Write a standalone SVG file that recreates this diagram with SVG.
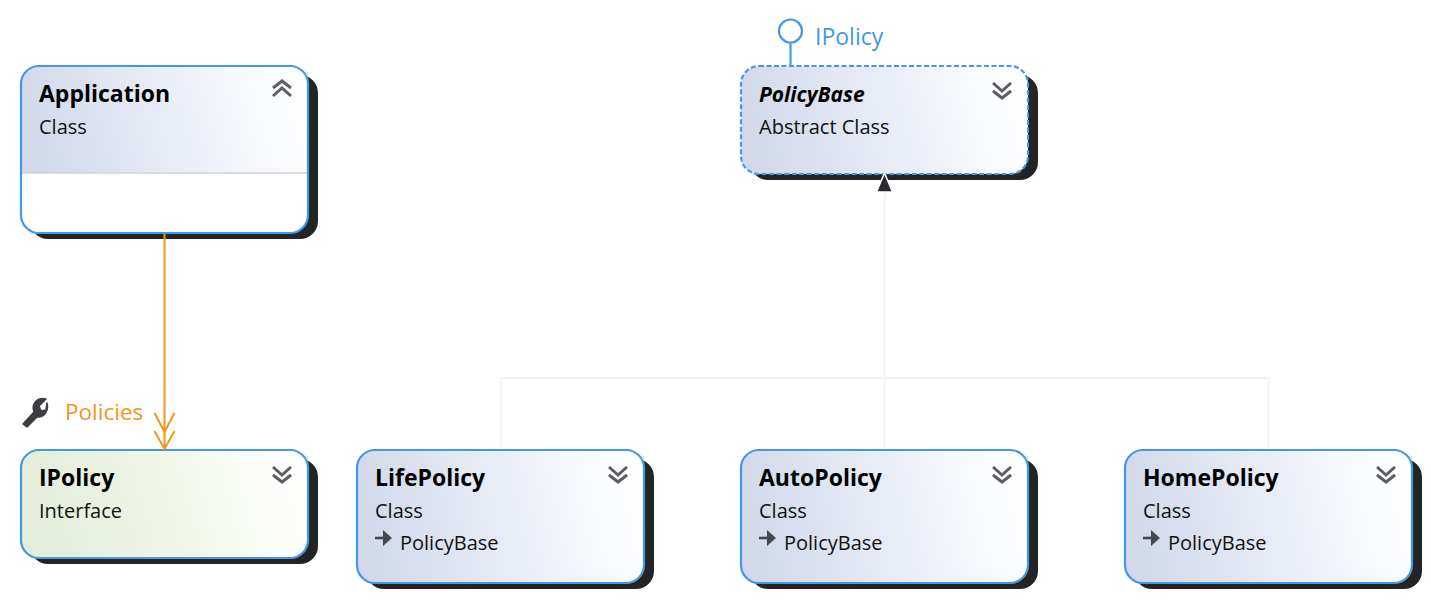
<svg xmlns="http://www.w3.org/2000/svg" width="1431" height="601" viewBox="0 0 1431 601">
<style>
text{font-family:"Open Sans","Noto Sans","Liberation Sans",sans-serif}
.t{font-size:23px;font-weight:700;fill:#000}
.s{font-size:20px;fill:#111}
.b{stroke:#4199e8;stroke-width:2.2}
.sh{fill:#222426}
.c{fill:none;stroke:#5c5e62;stroke-width:3}
.l{fill:none;stroke:#f3f3f4;stroke-width:2}
.o{fill:none;stroke:#f2951c;stroke-width:2}
.i{fill:none;stroke:#454850;stroke-width:2.6}
</style>
<defs>
<linearGradient id="gc" x1="0" y1="0.1" x2="1" y2="0"><stop offset="0" stop-color="#d2d9ea"/><stop offset="0.5" stop-color="#eaeef7"/><stop offset="0.85" stop-color="#fbfcfe"/><stop offset="1" stop-color="#ffffff"/></linearGradient>
<linearGradient id="gi" x1="0" y1="0.1" x2="1" y2="0"><stop offset="0" stop-color="#e3edd9"/><stop offset="0.5" stop-color="#f1f6ea"/><stop offset="0.85" stop-color="#fcfdfa"/><stop offset="1" stop-color="#ffffff"/></linearGradient>
<g id="dn"><path class="c" d="M-9 -7L0 1L9 -7M-9 1L0 8L9 1"/></g>
<g id="up"><path class="c" d="M-9 7L0 -1L9 7M-9 -1L0 -8L9 -1"/></g>
<g id="inh"><path class="i" d="M-1 -1H11"/><path d="M7 -9L16 -1L7 7Z" fill="#454850"/></g>
</defs>
<g id="Application">
<rect class="sh" x="30" y="75" width="288" height="164" rx="18"/>
<rect x="21" y="66" width="287" height="167" rx="18" fill="#fff"/>
<path d="M39 66H290A18 18 0 0 1 308 84V173H21V84A18 18 0 0 1 39 66Z" fill="url(#gc)"/>
<path d="M21 173H308" stroke="#d2d3d6" stroke-width="1.500"/>
<rect class="b" x="21" y="66" width="287" height="167" rx="18" fill="none"/>
<text class="t" x="39" y="102">Application</text><text class="s" x="39" y="134">Class</text>
<use href="#up" x="282" y="89"/>
</g>
<g id="IPolicy">
<rect class="sh" x="30" y="459" width="288" height="105" rx="18"/>
<rect class="b" x="21" y="450" width="287" height="108" rx="18" fill="url(#gi)"/>
<text class="t" x="39" y="486">IPolicy</text><text class="s" x="39" y="518">Interface</text>
<use href="#dn" x="282" y="474"/>
</g>
<g id="PoliciesLabel">
<path d="M23 424L34 412C31 404 37 397 46 399L39 406L41 411L46 410L47 403C49 411 44 418 37 417L27 427Z" fill="#3c3e42" stroke="#3c3e42" stroke-width="1.500" stroke-linejoin="round"/>
<text x="65" y="420" font-size="22.500" fill="#f2951c">Policies</text>
</g>
<g id="PolicyBase">
<rect class="sh" x="750" y="75" width="288" height="105" rx="18"/>
<rect class="b" x="741" y="66" width="287" height="108" rx="18" fill="url(#gc)" stroke-dasharray="5 2.500"/>
<text class="t" x="759" y="102" style="font-size:21px;font-style:italic">PolicyBase</text><text class="s" x="759" y="134">Abstract Class</text>
<use href="#dn" x="1002" y="90"/>
<text x="815" y="45" font-size="23" fill="#4199e8">IPolicy</text>
</g>
<g id="LifePolicy">
<rect class="sh" x="366" y="459" width="288" height="130" rx="18"/>
<rect class="b" x="357" y="450" width="287" height="133" rx="18" fill="url(#gc)"/>
<text class="t" x="375" y="486">LifePolicy</text><text class="s" x="375" y="518">Class</text>
<use href="#inh" x="376" y="539"/><text class="s" x="400" y="550">PolicyBase</text>
<use href="#dn" x="618" y="474"/>
</g>
<g id="AutoPolicy">
<rect class="sh" x="750" y="459" width="288" height="130" rx="18"/>
<rect class="b" x="741" y="450" width="287" height="133" rx="18" fill="url(#gc)"/>
<text class="t" x="759" y="486">AutoPolicy</text><text class="s" x="759" y="518">Class</text>
<use href="#inh" x="760" y="539"/><text class="s" x="784" y="550">PolicyBase</text>
<use href="#dn" x="1002" y="474"/>
</g>
<g id="HomePolicy">
<rect class="sh" x="1134" y="459" width="288" height="130" rx="18"/>
<rect class="b" x="1125" y="450" width="287" height="133" rx="18" fill="url(#gc)"/>
<text class="t" x="1143" y="486">HomePolicy</text><text class="s" x="1143" y="518">Class</text>
<use href="#inh" x="1144" y="539"/><text class="s" x="1168" y="550">PolicyBase</text>
<use href="#dn" x="1386" y="474"/>
</g>
<g id="connectors">
<path class="l" d="M884.500 449V190M501 449V378H1268.500V449"/>
<path d="M884.500 173L892.500 192H876.500Z" fill="#2a2b2e" stroke="#fff" stroke-width="1.500"/>
<path class="o" d="M164.500 234V449M154.500 413L164.500 432L174.500 413M154.500 431L164.500 449L174.500 431"/>
<path d="M790.500 65V43" fill="none" stroke="#4199e8" stroke-width="2.200"/>
<circle cx="790.500" cy="31" r="11.500" fill="none" stroke="#4199e8" stroke-width="2.200"/>
</g>
</svg>
